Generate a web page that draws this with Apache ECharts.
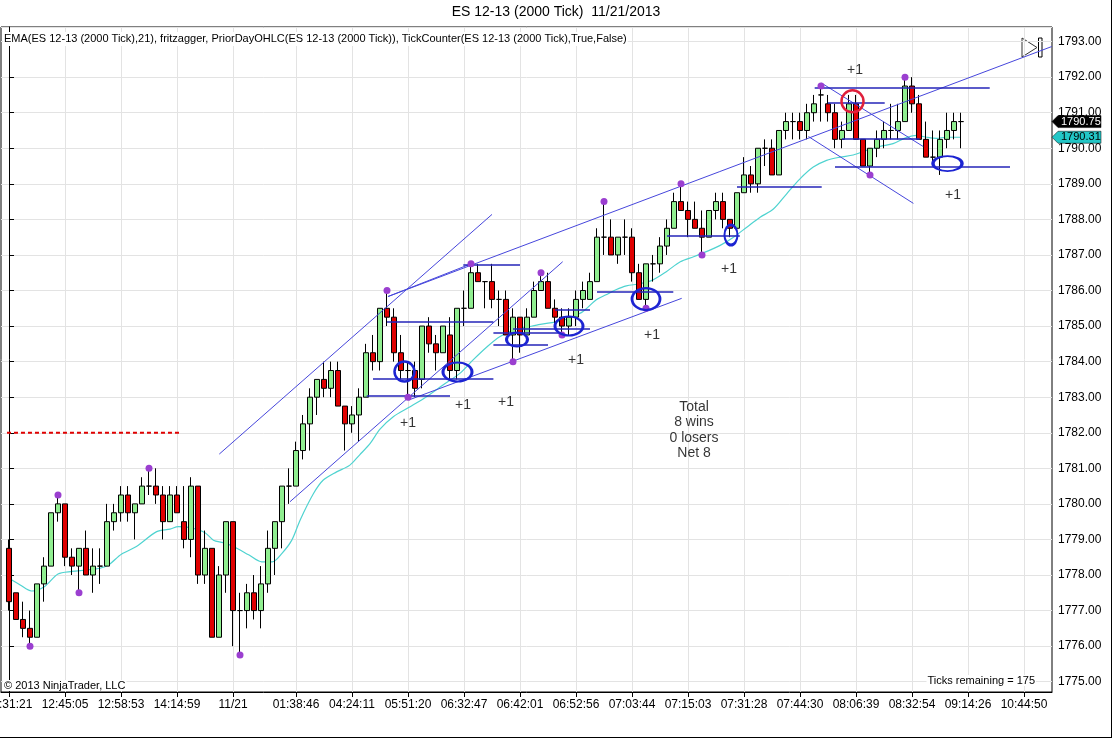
<!DOCTYPE html>
<html>
<head>
<meta charset="utf-8">
<script src="https://cdn.jsdelivr.net/npm/echarts@6/dist/echarts.min.js"></script>
<style>
html,body{margin:0;padding:0;background:#fff;}
#chart{width:1112px;height:738px;}
</style>
</head>
<body>
<div id="chart"></div>
<script>
// ---------------- DATA ----------------
const open = [1778.75,1777.5,1776.75,1776.5,1776.25,1777.75,1778.25,1779.75,1780,1778.5,
1778.25,1778.75,1778,1778.25,1778.25,1779.5,1779.75,1780.25,1779.75,1780,
1780.5,1780.5,1780.25,1779.5,1780.25,1779.5,1779,1780.5,1778,1778.75,
1776.25,1778,1779.5,1777,1777,1777.5,1777,1777.75,1778.75,1779.5,
1780.5,1780.5,1781.5,1782.25,1783,1783.5,1783.25,1783.75,1782.75,1782.25,
1782.5,1783,1784.25,1784,1785.5,1785.25,1784.25,1783.75,1783.75,1783.5,
1785,1784.5,1784.25,1784.75,1783.75,1785.5,1785.5,1786.5,1786.25,1786.25,
1785.75,1785.75,1784.75,1785.25,1784.75,1785.25,1786,1786.25,1785.5,1785.25,
1785,1785.25,1785.75,1785.75,1786.25,1787.5,1787.5,1787,1787.5,1787.5,
1786.5,1785.75,1786.75,1786.75,1787.25,1787.75,1788.5,1788.25,1788,1787.75,
1787.5,1788.25,1788.5,1788,1787.75,1788.75,1789.25,1789,1790,1790,
1789.25,1790.5,1790.75,1790.75,1790.5,1791,1791.5,1791.25,1791,1790.25,
1790.5,1791.25,1790.25,1789.5,1790,1790.25,1790.5,1790.5,1790.75,1791.75,
1791.25,1790.25,1789.75,1789.75,1790.25,1790.5,1790.75];
const high = [1779,1777.5,1777.25,1777,1777.75,1778.5,1779.75,1780.25,1780,1778.75,
1778.75,1779.25,1778.75,1778.75,1780,1780,1780.5,1780.5,1780,1780.75,
1781,1781,1780.5,1780.5,1780.5,1780.5,1780.75,1780.5,1779.25,1778.75,
1778.25,1779.5,1779.5,1777.5,1777.75,1778,1778.25,1779.25,1779.5,1780.5,
1781,1781.75,1782.5,1783.25,1783.5,1784,1784,1784,1782.75,1782.75,
1783.25,1784.5,1784.75,1785.5,1786,1785.5,1784.75,1784,1784,1785,
1785.25,1784.75,1785,1785.25,1785.5,1786,1786.75,1786.75,1786.25,1786.75,
1786,1786,1785.5,1785.25,1785.5,1786.25,1786.5,1786.5,1785.75,1785.5,
1785.5,1786,1786.25,1786.5,1787.75,1788.5,1788,1787.5,1788,1787.75,
1786.75,1786.75,1787,1787.5,1788,1788.75,1789,1788.5,1788.5,1788.25,
1788.25,1788.75,1788.75,1788,1788.75,1789.75,1789.5,1790,1790.25,1790.25,
1790.5,1791,1791,1791,1791.25,1791.5,1791.75,1791.5,1791.25,1790.75,
1791.5,1791.5,1790.25,1790,1790.5,1790.75,1791.25,1791.25,1792,1792,
1791.5,1790.75,1790.5,1790.5,1791,1791,1791];
const low = [1777,1776.75,1776.25,1776,1776.25,1777.25,1778.25,1779.5,1778.25,1778,
1777.5,1778,1777.5,1777.75,1778.25,1779.25,1779.5,1779.5,1779,1780,
1780.25,1780,1779,1779.5,1779.75,1778.75,1778.5,1777.75,1777.75,1776.25,
1776.25,1777.5,1776,1775.75,1776.5,1776.75,1776.5,1777.5,1778,1778.75,
1780,1780.5,1781.25,1781.5,1782.5,1783,1783,1782.75,1781.5,1782,
1781.75,1783,1783.75,1783.75,1785,1784,1783.5,1783,1783,1783.25,
1784.25,1783.75,1784.25,1783.5,1783.5,1785,1785.5,1786.25,1785.5,1785.5,
1785,1784.75,1784,1784.25,1784.75,1785.25,1786,1785.5,1785,1784.75,
1784.75,1785,1785.5,1785.75,1786.25,1787,1787,1786.75,1787,1786.25,
1785.75,1785.5,1786.25,1786.5,1787,1787.75,1788.25,1787.5,1787.75,1787,
1787.5,1788,1787.75,1787.5,1787.75,1788.75,1788.75,1788.75,1789.5,1789.25,
1789.25,1790.25,1790.25,1790.25,1790.25,1790.75,1790.75,1790.75,1790,1790,
1790.5,1790.25,1789.5,1789.25,1789.75,1790,1790.25,1790.25,1790.75,1791,
1790.25,1789.75,1789.5,1789.25,1790,1790.25,1790];
const close = [1777.25,1776.75,1776.5,1776.25,1777.75,1778.25,1779.75,1780,1778.5,1778.25,
1778.75,1778,1778.25,1778.25,1779.5,1779.75,1780.25,1779.75,1780,1780.5,
1780.5,1780.25,1779.5,1780.25,1779.75,1779,1780.5,1778,1778.75,1776.25,
1778,1779.5,1777,1777,1777.5,1777,1777.75,1778.75,1779.5,1780.5,
1780.5,1781.5,1782.25,1783,1783.5,1783.25,1783.75,1782.75,1782.25,1782.5,
1783,1784.25,1784,1785.5,1785.25,1784.25,1783.75,1783.75,1783.25,1785,
1784.5,1784.25,1785,1783.75,1785.5,1785.5,1786.5,1786.25,1786.25,1785.75,
1785.75,1784.75,1785.25,1784.75,1785.25,1786,1786.25,1785.5,1785.25,1785,
1785.25,1785.75,1786,1786.25,1787.5,1787.5,1787,1787.5,1787.5,1786.5,
1785.75,1786.75,1786.75,1787.25,1787.75,1788.5,1788.25,1788,1787.75,1787.5,
1788.25,1788.5,1788,1787.75,1788.75,1789.25,1789,1790,1790,1789.25,
1790.5,1790.75,1790.75,1790.5,1791,1791.25,1791.5,1791,1790.25,1790.5,
1791.25,1790.25,1789.5,1790,1790.25,1790.5,1790.5,1790.75,1791.75,1791.25,
1790.25,1789.75,1789.75,1790.25,1790.5,1790.75,1790.75];

// EMA(21): bar index / value
const emaIdx = [0,1.6,3.2,5.1,7,9,11.1,13,14.2,16.1,18.2,21.1,23,24.2,25.9,28,29.2,30.6,32,34.3,36.1,37.6,39,40.4,41.6,43.5,44.9,46.8,48.7,50.1,51.6,53,54.9,57.3,59.7,62,64.4,66.3,68.3,70.1,72.1,74,75.9,78.7,80.6,82,83.9,85.3,86.7,88.2,90.1,92,93.9,95.9,97.8,99.7,101.6,103.5,105.4,107.3,109.2,111.1,113,114.9,116.8,118.7,120.6,122.5,124.4,126.3,128.2,129.7,131.1,132.5,133.9,136];
const emaVal = [1777.91,1777.72,1777.55,1777.68,1778.03,1778.10,1778.14,1778.19,1778.28,1778.59,1778.80,1779.22,1779.29,1779.36,1779.33,1779.19,1778.98,1778.91,1778.81,1778.56,1778.37,1778.37,1778.61,1778.98,1779.55,1780.29,1780.67,1780.90,1781.09,1781.38,1781.70,1782.10,1782.45,1782.73,1783.02,1783.34,1783.67,1784.05,1784.42,1784.70,1784.89,1784.97,1785.05,1785.14,1785.27,1785.41,1785.74,1785.88,1786.02,1786.13,1786.19,1786.30,1786.53,1786.81,1786.95,1787.10,1787.27,1787.50,1787.78,1788.06,1788.29,1788.72,1789.14,1789.47,1789.66,1789.75,1789.81,1789.94,1790.05,1790.13,1790.30,1790.36,1790.31,1790.28,1790.31,1790.31];
const emaLast = 1790.31;

// swing dots (bar index / price)
const dotIdx = [3,7,10,20,33,54,57,66,72,76,79,85,91,96,99,116,123,128];
const dotPrice = [1776,1780.25,1777.5,1781,1775.75,1786,1783,1786.75,1784,1786.5,1784.75,1788.5,1785.5,1789,1787,1791.75,1789.25,1792];

// x tick positions (bar index) and labels
const xTickIdx = [0,8,16,24,32,41,49,57,65,73,81,89,97,105,113,121,129,137,145];
const xTickLabels = ['12:31:21','12:45:05','12:58:53','14:14:59','11/21','01:38:46','04:24:11','05:51:20','06:32:47','06:42:01','06:52:56','07:03:44','07:15:03','07:31:28','07:44:30','08:06:39','08:32:54','09:14:26','10:44:50'];

// hand drawn trend lines: [idx1, price1, idx2, price2]
const trendLines = [
  [30.04,1781.40,69,1788.14],
  [40.14,1780.06,79.1,1786.81],
  [57.1,1782.92,96.1,1785.78],
  [54.14,1785.83,148.96,1792.86],
  [54.14,1785.83,66,1786.75],
  [116.1,1791.83,130.6,1790.05],
  [114.2,1790.33,129.2,1788.45]
];
// horizontal level lines: [idxStart, idxEnd, price]
const levelLines = [
  [51.1,63,1783.03],[52,69.2,1783.53],[54,69.2,1785.13],[64.9,73,1786.72],
  [69.2,78.7,1784.80],[72,83,1784.92],[69.2,77,1784.47],[78,83,1785.45],
  [84,94.9,1785.97],[94,104.4,1787.54],[104,116.1,1788.92],[115.1,140.1,1791.69],
  [117,125.1,1791.28],[119,130.1,1790.28],[118,143,1789.48]
];
// prior day close level: [idxStart, idxEnd, price]
const priorDay = [-0.29,24.4,1782.0];

// blue ellipses (centre idx / price) and red circle
const ellIdx = [56.5,64.07,72.57,80,91,103.14,134.07];
const ellPrice = [1783.72,1783.71,1784.62,1785.0,1785.76,1787.56,1789.57];
const redIdx = [120.5];
const redPrice = [1791.32];

// "+1" trade markers
const winIdx = [57,64.86,71,81,91.86,102.86,120.86,134.86];
const winPrice = [1782.28,1782.78,1782.87,1784.05,1784.75,1786.61,1792.2,1788.69];
const winText = '+1';

// summary text
const summaryPos = [97.86,1782.07];
const summaryLines = ['Total','8 wins','0 losers','Net 8'];

const titleText = 'ES 12-13 (2000 Tick)  11/21/2013';
const legendText = 'EMA(ES 12-13 (2000 Tick),21), fritzagger, PriorDayOHLC(ES 12-13 (2000 Tick)), TickCounter(ES 12-13 (2000 Tick),True,False)';
const copyText = '\u00a9 2013 NinjaTrader, LLC';
const ticksText = 'Ticks remaining = 175';

// ---------------- STYLE / LAYOUT ----------------
const FONT = '"Liberation Sans", Arial, sans-serif';
const ellSizes = [[20,20],[29,19],[21,14],[28,19],[28,22],[13,20],[29,15]];
const xMin = -8/7, xMax = 149.0;
const yMin = 1774.71, yMax = 1793.41;

const candleData = open.map((o,i)=>[i,o,close[i],low[i],high[i]]);
const lastClose = close[close.length-1];

const chart = echarts.init(document.getElementById('chart'));
const option = {
  animation:false,
  backgroundColor:'#fff',
  textStyle:{fontFamily:FONT},
  grid:{left:1,top:27,right:60,bottom:46,show:true,borderColor:'#000',borderWidth:1,backgroundColor:'#fff',
        containLabel:false,outerBoundsMode:'none'},
  xAxis:[{
    type:'value',min:xMin,max:xMax,position:'bottom',
    axisLine:{show:true,onZero:false,lineStyle:{color:'#000',width:1}},
    axisTick:{show:true,customValues:xTickIdx,length:5,lineStyle:{color:'#000'}},
    axisLabel:{customValues:xTickIdx,fontSize:12,color:'#000',margin:7,fontFamily:FONT,hideOverlap:false,
      formatter:function(v){const k=xTickIdx.indexOf(Math.round(v));return k>=0?xTickLabels[k]:'';}},
    splitLine:{show:true,lineStyle:{color:'#e3e3e3',width:1}}
  }],
  yAxis:[{
    type:'value',position:'right',min:yMin,max:yMax,minInterval:1,maxInterval:1,splitNumber:18,
    axisLine:{show:true,lineStyle:{color:'#000',width:1}},
    axisTick:{show:true,length:5,lineStyle:{color:'#000'}},
    axisLabel:{fontSize:12,color:'#000',margin:6,fontFamily:FONT,showMinLabel:false,showMaxLabel:false,
      formatter:function(v){return v.toFixed(2);}},
    splitLine:{show:true,lineStyle:{color:'#e3e3e3',width:1}}
  }],
  series:[
    {
      type:'line',name:'prior',data:[[priorDay[0],priorDay[2]],[priorDay[1],priorDay[2]]],
      symbol:'none',lineStyle:{color:'#e00000',width:2,type:[4,3]},z:2,silent:true
    },
    {
      type:'line',name:'ema',data:emaIdx.map((x,i)=>[x,emaVal[i]]),
      symbol:'none',smooth:0.3,lineStyle:{color:'#4fd3d0',width:1.2},z:2,silent:true
    },
    {
      type:'candlestick',name:'ES',data:candleData,encode:{x:0,y:[1,2,3,4]},barWidth:5,
      itemStyle:{color:'#90ee90',color0:'#e00000',borderColor:'#000',borderColor0:'#000',borderColorDoji:'#000',borderWidth:1},
      z:3
    },
    {
      type:'lines',coordinateSystem:'cartesian2d',z:4,silent:true,
      data:trendLines.map(t=>({coords:[[t[0],t[1]],[t[2],t[3]]]})),
      lineStyle:{color:'#4646dc',width:1,opacity:1}
    },
    {
      type:'lines',coordinateSystem:'cartesian2d',z:4,silent:true,
      data:levelLines.map(t=>({coords:[[t[0],t[2]],[t[1],t[2]]]})),
      lineStyle:{color:'#2424b8',width:1.5,opacity:1}
    },
    {
      type:'scatter',data:dotIdx.map((x,i)=>[x,dotPrice[i]]),symbolSize:7,
      itemStyle:{color:'#9b3fd0',opacity:1},z:5,silent:true
    },
    {
      type:'scatter',data:ellIdx.map((x,i)=>[x,ellPrice[i]]),
      symbolSize:function(v,p){return ellSizes[p.dataIndex];},
      itemStyle:{color:'rgba(0,0,0,0)',borderColor:'#1c24d2',borderWidth:2.5,opacity:1},z:6,silent:true
    },
    {
      type:'scatter',data:redIdx.map((x,i)=>[x,redPrice[i]]),symbolSize:22,
      itemStyle:{color:'rgba(0,0,0,0)',borderColor:'#e0203c',borderWidth:2.5,opacity:1},z:6,silent:true
    },
    {
      type:'scatter',data:winIdx.map((x,i)=>[x,winPrice[i]]),symbolSize:1,
      itemStyle:{color:'rgba(0,0,0,0)'},z:7,silent:true,
      label:{show:true,position:'inside',formatter:winText,fontSize:14,color:'#000',fontFamily:FONT}
    },
    {
      type:'scatter',data:[summaryPos],symbolSize:1,itemStyle:{color:'rgba(0,0,0,0)'},z:7,silent:true,
      label:{show:true,position:'inside',formatter:summaryLines.join('\n'),fontSize:14,lineHeight:15.5,color:'#000',align:'center',fontFamily:FONT}
    }
  ],
  graphic:[]
};
chart.setOption(option);

const gridRight = 1052;
const yClose = chart.convertToPixel({yAxisIndex:0}, lastClose);
const yEma = chart.convertToPixel({yAxisIndex:0}, emaLast);
function tag(y, fill, txtColor, val, id){
  return {type:'group',id:id,z:100,children:[
    {type:'polygon',shape:{points:[[gridRight,y],[gridRight+6,y-6],[gridRight+49,y-6],[gridRight+49,y+6],[gridRight+6,y+6]]},
      style:{fill:fill,stroke:'#000',lineWidth:0.5}},
    {type:'text',x:gridRight+9,y:y,style:{text:val.toFixed(2),fill:txtColor,font:'11px '+FONT,textVerticalAlign:'middle',verticalAlign:'middle'}}
  ]};
}
chart.setOption({graphic:[
  {type:'text',id:'title',left:'center',top:5,style:{text:titleText,fill:'#000',font:'14px '+FONT}},
  {type:'text',id:'legend',left:3,top:32,z:50,style:{text:legendText,fill:'#000',font:'11px '+FONT,backgroundColor:'#fff',padding:[1,1,2,1]}},
  {type:'text',id:'copy',left:3,top:680,z:50,style:{text:copyText,fill:'#000',font:'11px '+FONT,backgroundColor:'#fff',padding:[0,1]}},
  {type:'text',id:'ticks',right:1112-1036,top:675,z:50,style:{text:ticksText,fill:'#000',font:'11px '+FONT,backgroundColor:'#fff',padding:[0,1]}},
  {type:'polygon',id:'tri',shape:{points:[[1022,38],[1037,47.5],[1022,57]]},style:{fill:'none',stroke:'#333',lineWidth:1}},
  {type:'rect',id:'bar',shape:{x:1038.5,y:38,width:3.5,height:19},style:{fill:'#fff',stroke:'#000',lineWidth:1}},
  {type:'line',id:'frameR',shape:{x1:1111.5,y1:0,x2:1111.5,y2:738},style:{stroke:'#000',lineWidth:1}},
  {type:'line',id:'frameB',shape:{x1:0,y1:737.5,x2:1112,y2:737.5},style:{stroke:'#000',lineWidth:1}},
  tag(yClose,'#000','#fff',lastClose,'tagClose'),
  tag(yEma,'#22c6c6','#000',emaLast,'tagEma')
]});
</script>
</body>
</html>
